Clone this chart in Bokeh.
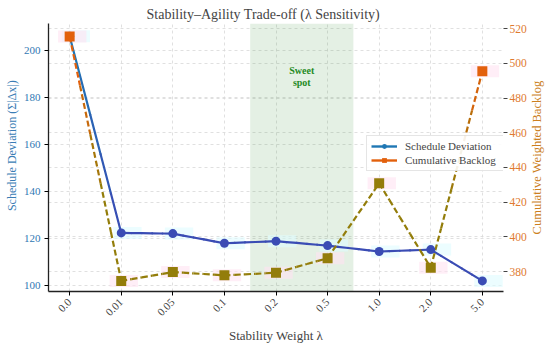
import numpy as np
from bokeh.plotting import figure
from bokeh.layouts import row
from bokeh.models import (Range1d, LinearAxis, FixedTicker, Grid, BoxAnnotation,
                          Legend, LegendItem, Label, Title)
from bokeh.embed import file_html
from bokeh.resources import INLINE

# ---- data ----
lambdas = ["0.0", "0.01", "0.05", "0.1", "0.2", "0.5", "1.0", "2.0", "5.0"]
deviation = [206.0, 122.4, 122.1, 118.0, 118.9, 117.0, 114.5, 115.3, 102.0]
backlog = [515.4, 374.7, 379.8, 377.9, 379.4, 387.8, 430.9, 382.3, 495.4]
left_ticks = [100, 120, 140, 160, 180, 200]
right_ticks = [380, 400, 420, 440, 460, 480, 500, 520]
sweet_lo, sweet_hi = "0.1", "0.5"   # shaded between these categories (midpoints)

idx = list(range(len(lambdas)))
FONT = "Liberation Serif"
XR = (-0.41, 8.41)
YL = (97.5, 211.4)
YR = (368.6, 522.9)

LEFT_W, MAIN_W, SIDE_W, H = 20, 509, 21, 346
BT, BB = 23, 53

p = figure(width=MAIN_W, height=H, x_range=Range1d(*XR),
           y_range=Range1d(*YL), output_backend="svg",
           toolbar_location=None, min_border_left=27, min_border_right=26,
           min_border_top=BT, min_border_bottom=BB)
p.extra_y_ranges = {"right": Range1d(*YR)}

p.title = Title(text="Stability\u2013Agility Trade-off (\u03bb Sensitivity)",
                align="left", offset=98, text_font=FONT, text_font_size="14px",
                text_font_style="normal", standoff=4)
p.outline_line_color = None
p.background_fill_color = "white"

# grids
p.xgrid.ticker = FixedTicker(ticks=idx)
p.ygrid.ticker = FixedTicker(ticks=left_ticks)
for g in (p.xgrid[0], p.ygrid[0]):
    g.grid_line_color = "#d8d8d8"
    g.grid_line_dash = "3 3"
    g.grid_line_width = 0.8
rgrid = Grid(dimension=1, ticker=FixedTicker(ticks=right_ticks), y_range_name="right",
             grid_line_color="#d8d8d8", grid_line_dash="3 3", grid_line_width=0.8)
p.add_layout(rgrid)

# sweet spot
lo = lambdas.index(sweet_lo) + 0.5
hi = lambdas.index(sweet_hi) + 0.5
p.add_layout(BoxAnnotation(left=lo, right=hi, fill_color="#2e8b2e", fill_alpha=0.13,
                           line_color=None, level="underlay"))
p.add_layout(Label(x=(lo + hi) / 2, y=189, text="Sweet\nspot", text_align="center",
                   text_baseline="middle", text_font=FONT, text_font_size="10px",
                   text_font_style="bold", text_color="#1f8a1f", text_line_height=1.1))

# faint glows behind points
p.rect(x=[i + 0.12 for i in idx], y=deviation, width=0.55, height=12, height_units="screen",
       fill_color="#dffcff", fill_alpha=0.6, line_color=None)
p.rect(x=[i + 0.05 for i in idx], y=backlog, width=0.55, height=12, height_units="screen",
       fill_color="#ffe3f1", fill_alpha=0.6, line_color=None, y_range_name="right")


def lerp(c1, c2, t):
    a = np.array([int(c1[i:i + 2], 16) for i in (1, 3, 5)])
    b = np.array([int(c2[i:i + 2], 16) for i in (1, 3, 5)])
    c = (a + (b - a) * t).astype(int)
    return "#%02x%02x%02x" % tuple(c)


BLUE_HI, BLUE_LO = "#1f77b4", "#3a4cb4"
OR_HI, OR_LO = "#e2600c", "#937d0a"


def col_dev(v):
    return lerp(BLUE_LO, BLUE_HI, float(np.clip((v - 125) / (200 - 125), 0, 1)))


def col_bl(v):
    return lerp(OR_LO, OR_HI, float(np.clip((v - 430) / (495 - 430), 0, 1)))


# segmented lines
n = 5
xs_d, ys_d, cs_d, xs_b, ys_b, cs_b = [], [], [], [], [], []
for i in range(len(idx) - 1):
    for k in range(n):
        t0, t1 = k / n, (k + 1) / n
        x0, x1 = idx[i] + t0, idx[i] + t1
        d0 = deviation[i] + (deviation[i + 1] - deviation[i]) * t0
        d1 = deviation[i] + (deviation[i + 1] - deviation[i]) * t1
        b0 = backlog[i] + (backlog[i + 1] - backlog[i]) * t0
        b1 = backlog[i] + (backlog[i + 1] - backlog[i]) * t1
        xs_d.append([x0, x1]); ys_d.append([d0, d1]); cs_d.append(col_dev((d0 + d1) / 2))
        xs_b.append([x0, x1]); ys_b.append([b0, b1]); cs_b.append(col_bl((b0 + b1) / 2))

p.multi_line(xs_d, ys_d, line_color=cs_d, line_width=2.2, line_cap="round")
p.multi_line(xs_b, ys_b, line_color=cs_b, line_width=2.2, line_dash="6 3",
             y_range_name="right")
p.scatter(idx, deviation, marker="circle", size=9, fill_color=[col_dev(v) for v in deviation],
          line_color=None)
p.scatter(idx, backlog, marker="square", size=10, fill_color=[col_bl(v) for v in backlog],
          line_color=None, y_range_name="right")

# legend proxies (not visible)
r1 = p.line([0], [0], line_color="#1f77b4", line_width=2.4, visible=False)
r1b = p.scatter([0], [0], marker="circle", size=10, fill_color="#1f77b4", line_color=None,
                visible=False)
r2 = p.line([0], [0], line_color="#e2600c", line_width=2.4, visible=False)
r2b = p.scatter([0], [0], marker="square", size=10, fill_color="#e2600c", line_color=None,
                visible=False)
legend = Legend(items=[LegendItem(label="Schedule Deviation", renderers=[r1, r1b]),
                       LegendItem(label="Cumulative Backlog", renderers=[r2, r2b])],
                location=(318, 120), label_text_font=FONT, label_text_font_size="11px",
                glyph_width=26, glyph_height=12, label_height=12, label_width=96, spacing=2,
                padding=4, margin=0, border_line_color="#cccccc", border_line_width=1,
                background_fill_alpha=0.9, label_standoff=8)
p.add_layout(legend)

# axes
xa = p.xaxis[0]
xa.ticker = FixedTicker(ticks=idx)
xa.major_label_overrides = {i: s for i, s in zip(idx, lambdas)}
xa.major_label_orientation = np.pi / 4
xa.major_label_text_font = FONT
xa.major_label_text_font_size = "11px"
xa.axis_label = "Stability Weight \u03bb"
xa.axis_label_text_font = FONT
xa.axis_label_text_font_size = "13px"
xa.axis_label_text_font_style = "normal"
xa.axis_label_standoff = 6
xa.major_label_standoff = 5
xa.major_tick_in = 0
xa.major_tick_out = 4
xa.minor_tick_line_color = None
xa.axis_line_color = "#222222"
xa.axis_line_width = 1.3

ya = p.yaxis[0]
ya.ticker = FixedTicker(ticks=left_ticks)
ya.major_label_text_color = "#2f78b3"
ya.major_label_text_font = FONT
ya.major_label_text_font_size = "11px"
ya.major_label_standoff = 4
ya.major_tick_in = 0
ya.major_tick_out = 4
ya.minor_tick_line_color = None
ya.axis_line_color = "#222222"
ya.axis_line_width = 1.3

ra = LinearAxis(y_range_name="right", ticker=FixedTicker(ticks=right_ticks))
ra.major_label_text_color = "#e07a30"
ra.major_label_text_font = FONT
ra.major_label_text_font_size = "11.5px"
ra.major_label_standoff = 2
ra.major_tick_in = 0
ra.major_tick_out = 4
ra.minor_tick_line_color = None
ra.axis_line_color = None
ra.major_tick_line_color = "#444444"
p.add_layout(ra, "right")


def strip(width, x, y, text, color, size):
    s = figure(width=width, height=H, x_range=Range1d(0, 1), y_range=Range1d(0, 1),
               output_backend="svg", toolbar_location=None, x_axis_location=None,
               y_axis_location=None, min_border_left=0, min_border_right=0,
               min_border_top=BT, min_border_bottom=BB)
    s.grid.visible = False
    s.outline_line_color = None
    s.add_layout(Label(x=x, y=y, text=text, angle=np.pi / 2, text_align="center",
                       text_baseline="middle", text_font=FONT, text_font_size=size,
                       text_color=color))
    return s


left_strip = strip(LEFT_W, 0.55, 0.544, "Schedule Deviation (\u03a3|\u0394x|)", "#3a7db5", "12px")
right_strip = strip(SIDE_W, 0.38, 0.5, "Cumulative Weighted Backlog", "#cc7f1e", "12.5px")

layout = row(left_strip, p, right_strip, spacing=0)
open("out.html", "w").write(file_html(layout, INLINE))
